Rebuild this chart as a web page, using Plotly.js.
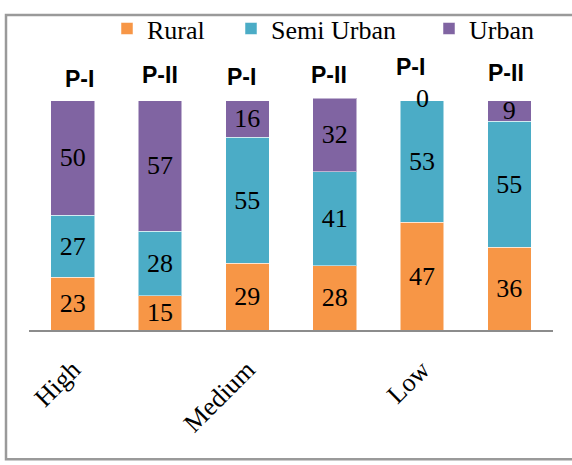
<!DOCTYPE html>
<html><head><meta charset="utf-8">
<script src="https://cdn.plot.ly/plotly-3.0.1.min.js"></script>
<style>html,body{margin:0;padding:0;background:#fff}#chart{width:572px;height:465px}</style>
</head><body><div id="chart"></div>
<script>
// ---- data ----
const groups = ["High", "Medium", "Low"];
const periods = ["P-I", "P-II", "P-I", "P-II", "P-I", "P-II"];
const rural = [23, 15, 29, 28, 47, 36];
const semiUrban = [27, 28, 55, 41, 53, 55];
const urban = [50, 57, 16, 32, 0, 9];
const seriesNames = ["Rural", "Semi Urban", "Urban"];

// ---- styles / layout ----
const colors = ["#F79646", "#4BACC6", "#8064A2"];
const W = 572, H = 465;
const M = {l: 29, r: 19, t: 5, b: 135};
const plotH = H - M.t - M.b, plotW = W - M.l - M.r;
const yMax = plotH / 2.36;
const py = p => (H - M.b - p) / plotH;   // pixel y -> paper y
const px = p => (p - M.l) / plotW;       // pixel x -> paper x
const periodShift = [7, 0, -6, -5.5, -12, -3.5];
const periodY = [72, 67.5, 70, 68, 59.5, 66];
const legendX = [107, 231, 429];
const serif = "Liberation Serif";

const xs = periods.map((_, i) => i);
const series = [rural, semiUrban, urban];
const legendIds = ["legend", "legend2", "legend3"];

const traces = series.map((vals, s) => ({
  type: "bar",
  name: seriesNames[s],
  legend: legendIds[s],
  x: xs,
  y: vals,
  marker: {color: colors[s], line: {color: "rgba(255,255,255,0.5)", width: 1}},
  text: vals.map(v => v === 0 ? "" : String(v)),
  textposition: "inside",
  insidetextanchor: "middle",
  textangle: 0,
  constraintext: "none",
  textfont: {family: serif, size: 26, color: "#000"},
  hoverinfo: "skip"
}));

const annotations = [];
periods.forEach((p, i) => {
  annotations.push({
    x: i, xref: "x", xshift: periodShift[i],
    y: py(periodY[i]), yref: "paper", yanchor: "middle",
    text: "<b>" + p + "</b>", showarrow: false,
    font: {family: "Liberation Sans", size: 23, color: "#000"}
  });
});
// zero-value labels placed at stack top
series.forEach((vals, s) => {
  vals.forEach((v, i) => {
    if (v === 0) {
      let base = 0;
      for (let k = 0; k < s; k++) base += series[k][i];
      annotations.push({
        x: i, xref: "x", y: base + v, yref: "y", yanchor: "middle", yshift: 2,
        text: String(v), showarrow: false,
        font: {family: serif, size: 26, color: "#000"}
      });
    }
  });
});

const layout = {
  width: W, height: H,
  margin: M,
  paper_bgcolor: "#fff", plot_bgcolor: "#fff",
  barmode: "stack",
  bargap: 0.5,
  showlegend: true,
  xaxis: {
    range: [-0.5, 5.5], tickmode: "array",
    tickvals: groups.map((_, g) => g * 2), ticktext: groups,
    tickangle: -45, ticks: "", ticklabelstandoff: 12,
    tickfont: {family: serif, size: 26, color: "#000"},
    showline: true, linecolor: "#8c8c8c", linewidth: 2,
    showgrid: false, zeroline: false, fixedrange: true
  },
  yaxis: {
    range: [0, yMax], showticklabels: false, ticks: "",
    showgrid: false, zeroline: false, showline: false, fixedrange: true
  },
  shapes: [{
    type: "rect", xref: "paper", yref: "paper",
    x0: px(6), x1: px(585), y0: py(463), y1: py(6),
    line: {color: "#9a9a9a", width: 2.5}, fillcolor: "rgba(0,0,0,0)", layer: "below"
  }],
  annotations: annotations
};
legendIds.forEach((id, s) => {
  layout[id] = {
    orientation: "h", x: px(legendX[s]), xanchor: "left", y: py(20), yanchor: "middle",
    font: {family: serif, size: 26, color: "#000"}, bgcolor: "rgba(0,0,0,0)"
  };
});

Plotly.newPlot("chart", traces, layout, {displayModeBar: false, staticPlot: true});
</script>
</body></html>
